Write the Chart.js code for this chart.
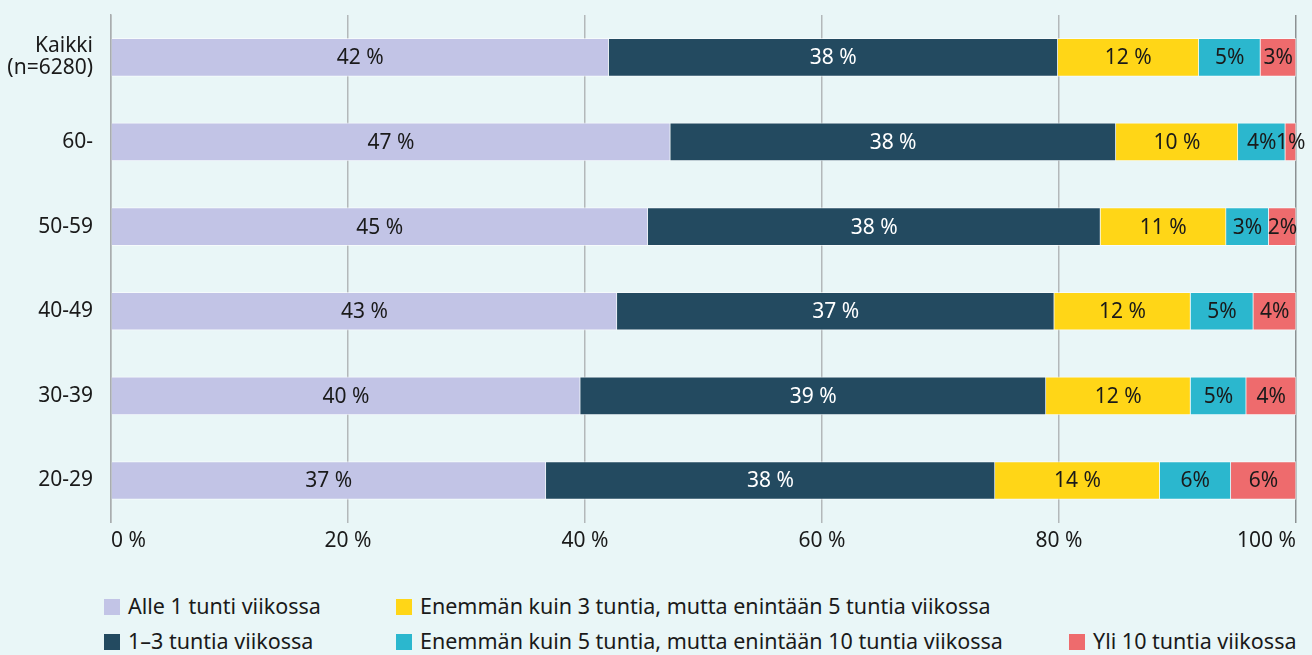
<!DOCTYPE html>
<html lang="fi">
<head>
    <meta charset="UTF-8">
    <title>Tunteja viikossa ikäryhmittäin</title>
    <script src="https://cdn.jsdelivr.net/npm/chart.js"></script>
    <style>
        html, body { margin: 0; padding: 0; background: #e9f6f7; }
        body { width: 1312px; height: 655px; position: relative; overflow: hidden; font-family: "Noto Sans", sans-serif; color: #1a1a1a; }
        #wrap { position: absolute; left: 0; top: 0; width: 1312px; height: 560px; }
        .leg { position: absolute; font-size: 21.5px; line-height: 24px; white-space: nowrap; }
        .leg i { display: inline-block; width: 16px; height: 16px; margin-right: 8px; vertical-align: -1px; }
    </style>
</head>
<body>
    <div id="wrap"><canvas id="chart"></canvas></div>
    <div id="legend"></div>

    <script>
        const categories = [["Kaikki", "(n=6280)"], "60-", "50-59", "40-49", "30-39", "20-29"];
        const seriesNames = [
            "Alle 1 tunti viikossa",
            "1–3 tuntia viikossa",
            "Enemmän kuin 3 tuntia, mutta enintään 5 tuntia viikossa",
            "Enemmän kuin 5 tuntia, mutta enintään 10 tuntia viikossa",
            "Yli 10 tuntia viikossa"
        ];
        const colors = ["#c2c4e6", "#234a60", "#ffd617", "#2bb7ce", "#ee6b6d"];
        const labelColors = ["#1a1a1a", "#ffffff", "#1a1a1a", "#1a1a1a", "#1a1a1a"];

        // osuudet (%) rivi kerrallaan: Kaikki, 60-, 50-59, 40-49, 30-39, 20-29
        const alle1 = [42.0, 47.2, 45.3, 42.7, 39.6, 36.7];
        const t1_3 = [37.9, 37.6, 38.2, 36.9, 39.3, 37.9];
        const t3_5 = [11.9, 10.3, 10.6, 11.5, 12.2, 13.9];
        const t5_10 = [5.2, 4.0, 3.6, 5.3, 4.7, 6.0];
        const yli10 = [3.0, 0.9, 2.3, 3.6, 4.2, 5.5];

        const alle1Labels = ["42 %", "47 %", "45 %", "43 %", "40 %", "37 %"];
        const t1_3Labels = ["38 %", "38 %", "38 %", "37 %", "39 %", "38 %"];
        const t3_5Labels = ["12 %", "10 %", "11 %", "12 %", "12 %", "14 %"];
        const t5_10Labels = ["5%", "4%", "3%", "5%", "5%", "6%"];
        const yli10Labels = ["3%", "1%", "2%", "4%", "4%", "6%"];

        const xTicks = [0, 20, 40, 60, 80, 100];

        const values = [alle1, t1_3, t3_5, t5_10, yli10];
        const labels = [alle1Labels, t1_3Labels, t3_5Labels, t5_10Labels, yli10Labels];

        const FONT = '"Noto Sans", sans-serif';
        const FS = 21;

        // pylväiden sisään piirrettävät prosenttiluvut
        const barLabels = {
            id: 'barLabels',
            afterDatasetsDraw(chart) {
                const ctx = chart.ctx;
                ctx.save();
                ctx.font = FS + 'px ' + FONT;
                ctx.textAlign = 'center';
                ctx.textBaseline = 'middle';
                chart.data.datasets.forEach((ds, i) => {
                    const meta = chart.getDatasetMeta(i);
                    meta.data.forEach((bar, j) => {
                        ctx.fillStyle = labelColors[i];
                        ctx.fillText(labels[i][j], (bar.x + bar.base) / 2, bar.y + 1);
                    });
                });
                ctx.restore();
            }
        };

        const ctx = document.getElementById('chart').getContext('2d');
        new Chart(ctx, {
            type: 'bar',
            data: {
                labels: categories,
                datasets: values.map((v, i) => ({
                    label: seriesNames[i],
                    data: v,
                    backgroundColor: colors[i],
                    borderColor: 'rgba(255,255,255,0.6)',
                    borderWidth: 1,
                    barThickness: 38
                }))
            },
            options: {
                indexAxis: 'y',
                responsive: true,
                maintainAspectRatio: false,
                animation: false,
                layout: { padding: { top: 15, right: 16, bottom: 0, left: 0 } },
                plugins: {
                    legend: { display: false },
                    tooltip: { enabled: false }
                },
                scales: {
                    x: {
                        stacked: true,
                        min: 0,
                        max: 100,
                        afterBuildTicks(scale) { scale.ticks = xTicks.map(v => ({ value: v })); },
                        afterFit(scale) { scale.paddingRight = 0; scale.paddingLeft = 0; },
                        grid: {
                            color: c => c.tick && c.tick.value === 100 ? '#8c9193' : '#b3b8ba',
                            lineWidth: 1.5,
                            drawTicks: false
                        },
                        border: { display: false },
                        ticks: {
                            padding: 6,
                            align: 'inner',
                            color: '#1a1a1a',
                            font: { family: FONT, size: FS },
                            callback: v => v + ' %'
                        }
                    },
                    y: {
                        stacked: true,
                        afterFit(scale) { scale.width = 111; scale.paddingTop = 0; scale.paddingBottom = 0; },
                        grid: { display: false },
                        border: { display: true, color: '#a9adaf', width: 1.5 },
                        ticks: {
                            padding: 10,
                            color: '#1a1a1a',
                            font: { family: FONT, size: FS, lineHeight: 1.05 }
                        }
                    }
                }
            },
            plugins: [barLabels]
        });

        // selite: kaksi riviä, sarakkeittain
        const legendPos = [[104, 594], [104, 629], [396, 594], [396, 629], [1069, 629]];
        const legend = document.getElementById('legend');
        seriesNames.forEach((name, i) => {
            const d = document.createElement('div');
            d.className = 'leg';
            d.style.left = legendPos[i][0] + 'px';
            d.style.top = legendPos[i][1] + 'px';
            d.innerHTML = '<i style="background:' + colors[i] + '"></i>' + name;
            legend.appendChild(d);
        });
    </script>
</body>
</html>
